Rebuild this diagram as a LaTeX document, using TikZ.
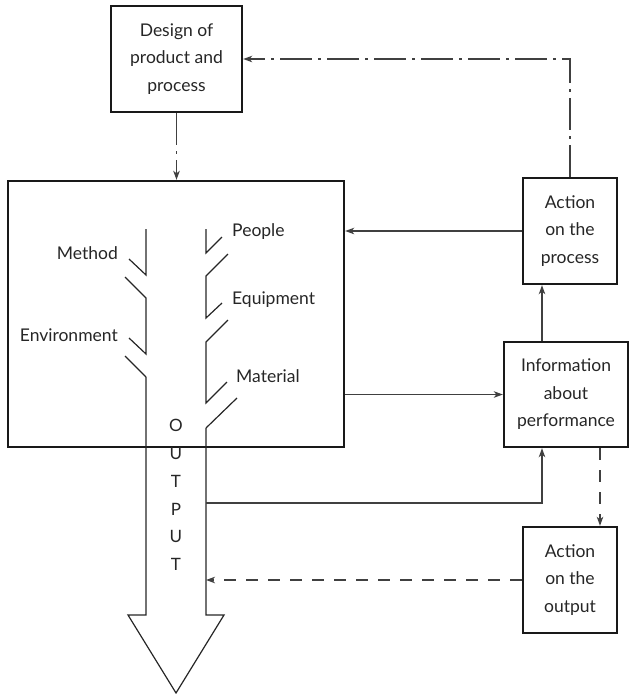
\documentclass[tikz,border=0pt]{standalone}
\usepackage{fontspec}
\setmainfont{Lato}
\usetikzlibrary{arrows.meta}
\begin{document}
\begin{tikzpicture}[x=1pt,y=-1pt,
  every node/.style={font=\fontsize{17.5}{27.5}\selectfont, text=black!85},
  box/.style={draw=black!90, line width=2.4pt, align=center, inner sep=0pt},
  link/.style={draw=black!75, line width=1.1pt},
  tip/.style={-{Stealth[length=9pt,width=6.5pt,inset=2.5pt]}},
  dashdot/.style={dash pattern=on 32pt off 6pt on 3pt off 6pt},
  dashedline/.style={dash pattern=on 12pt off 10pt},
  branch/.style={draw=black!85, line width=1.2pt, line join=miter},
  label/.style={inner sep=0pt}
]
\useasboundingbox (0,0) rectangle (630,694);

% boxes
\node[box, minimum width=131, minimum height=106] (design) at (176.5,59)
  {Design of\\product and\\process};
\node[box, minimum width=336, minimum height=266] (main) at (176,314) {};
\node[box, minimum width=94, minimum height=106] (actp) at (570,231)
  {Action\\on the\\process};
\node[box, minimum width=124, minimum height=105] (info) at (566,394.5)
  {Information\\about\\performance};
\node[box, minimum width=94, minimum height=106] (acto) at (570,580)
  {Action\\on the\\output};

% output arrow
\coordinate (shaftL) at (146,615);
\coordinate (shaftR) at (206,615);
\draw[draw=black!85, line width=1.2pt, line join=miter]
  (146,377) -- (shaftL) -- (128,615) -- (176,693) -- (224,615) -- (shaftR) -- (206,428);
\node[label, align=center, font=\fontsize{17}{27.8}\selectfont] (out) at (176,495)
  {O\\U\\T\\P\\U\\T};

% left-hand branches
\draw[branch] (129,259) -- (146,275) -- (146,229);
\draw[branch] (125,277) -- (146,298) -- (146,354) -- (129,338);
\draw[branch] (125,356) -- (146,377);
% right-hand branches
\draw[branch] (206,229) -- (206,253) -- (222,237);
\draw[branch] (228,254) -- (206,276) -- (206,318) -- (222,303);
\draw[branch] (228,320) -- (206,342) -- (206,403) -- (227,382);
\draw[branch] (237,398) -- (206,428);

% cause labels
\node[label, anchor=mid east] (method) at (118,257) {Method};
\node[label, anchor=mid east] (envir) at (118,339) {Environment};
\node[label, anchor=mid west] (people) at (232,234) {People};
\node[label, anchor=mid west] (equip) at (232,302) {Equipment};
\node[label, anchor=mid west] (mater) at (236,380) {Material};

% connectors
\draw[link, dashdot, tip] (design.south) -- (design.south |- main.north);
\draw[link, dashdot, tip] (actp.north) |- (design.east);
\draw[link, tip] (actp.west) -- (main.east |- actp.west);
\draw[link, tip] (main.east |- info.west) -- (info.west);
\draw[link, tip] (info.north -| 542,0) -- (actp.south -| 542,0);
\draw[link, tip] (shaftR |- 0,503) -| (info.south -| 542,0);
\draw[link, dashedline, tip] (info.south -| 600,0) -- (acto.north -| 600,0);
\draw[link, dashedline, tip] (acto.west) -- (shaftR |- acto.west);
\end{tikzpicture}
\end{document}
